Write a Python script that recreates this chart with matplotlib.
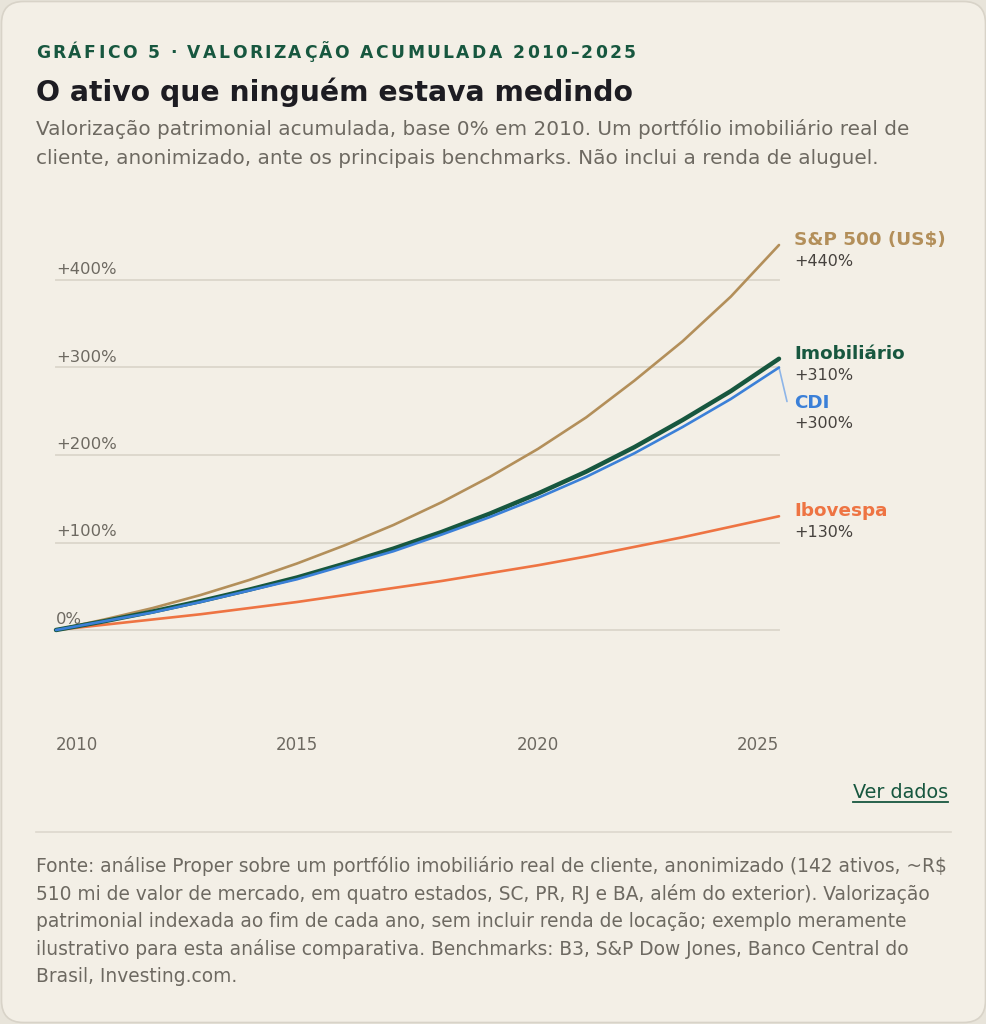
import matplotlib.pyplot as plt
from matplotlib.patches import FancyBboxPatch
from matplotlib.transforms import IdentityTransform
from matplotlib.font_manager import FontProperties

W, H = 987, 1024

years = list(range(2010, 2026))
sp500 = [0, 12, 25, 40, 57, 76, 97, 120, 146, 175, 207, 243, 285, 330, 381, 440]
imobiliario = [0, 10, 21, 33, 46, 60, 76, 93, 112, 133, 156, 181, 209, 240, 273, 310]
cdi = [0, 10, 20, 32, 45, 58, 74, 90, 109, 129, 151, 175, 202, 232, 264, 300]
ibovespa = [0, 6, 12, 18, 25, 32, 40, 48, 56, 65, 74, 84, 95, 106, 118, 130]

y_ticks = [0, 100, 200, 300, 400]
y_tick_labels = ["0%", "+100%", "+200%", "+300%", "+400%"]
x_ticks = [2010, 2015, 2020, 2025]

BG_OUT = "#E8E4DA"
BG = "#F3EFE6"
GRID = "#DDD8CD"
GREEN = "#17573F"
TAN = "#B38F5A"
BLUE = "#3B80D8"
ORANGE = "#EE7443"
INK = "#1D1C22"
GRAY = "#6D6961"
DARK = "#46423E"


def fx(x):
    return x / W


def fy(y):
    return 1 - y / H


def spaced_text(fig, x, y, s, total_width, **kw):
    # draw each character on its own so the kicker gets letter spacing
    r = fig.canvas.get_renderer()
    fp = FontProperties(family="DejaVu Sans", weight=kw.get("fontweight", "normal"),
                        size=kw.get("fontsize", 10))
    base = r.get_text_width_height_descent("xx", fp, ismath=False)[0]
    widths = []
    for ch in s:
        w = r.get_text_width_height_descent("x" + ch + "x", fp, ismath=False)[0] - base
        widths.append(w)
    gap = (total_width - sum(widths)) / (len(s) - 1)
    for ch, w in zip(s, widths):
        fig.text(fx(x), fy(y), ch, va="baseline", ha="left", **kw)
        x += w + gap


fig = plt.figure(figsize=(W / 100, H / 100), dpi=100, facecolor=BG_OUT)

card = FancyBboxPatch((1.5, 1.5), W - 3, H - 3,
                      boxstyle="round,pad=0,rounding_size=22",
                      transform=IdentityTransform(), zorder=-10,
                      facecolor=BG, edgecolor="#D8D3C8", linewidth=1.2)
fig.add_artist(card)

# header
spaced_text(fig, 36, 58, "GRÁFICO 5 · VALORIZAÇÃO ACUMULADA 2010–2025", 600,
            fontsize=12.3, fontweight="bold", color=GREEN)
fig.text(fx(36), fy(101), "O ativo que ninguém estava medindo", fontsize=20.3,
         fontweight="bold", color=INK, va="baseline")
fig.text(fx(36), fy(135), "Valorização patrimonial acumulada, base 0% em 2010. Um portfólio imobiliário real de",
         fontsize=14.4, color=GRAY, va="baseline")
fig.text(fx(36), fy(164), "cliente, anonimizado, ante os principais benchmarks. Não inclui a renda de aluguel.",
         fontsize=14.4, color=GRAY, va="baseline")

# plot area: 2010 -> x=56px, 2025 -> x=779px, 0% -> y=630px, 400% -> y=280px
ax = fig.add_axes([fx(56), fy(717.5), (779 - 56) / W, (717.5 - 192.5) / H])
ax.set_xlim(2010, 2025)
ax.set_ylim(-100, 500)
ax.axis("off")
ax.patch.set_alpha(0)

for v, lab in zip(y_ticks, y_tick_labels):
    ax.plot([2010, 2025], [v, v], color=GRID, lw=1.4, zorder=1, clip_on=False)
    ax.annotate(lab, (2010, v), xytext=(0, 6), textcoords="offset pixels",
                fontsize=11.8, color=GRAY, va="baseline", ha="left")

for yr in x_ticks:
    ha = "left" if yr == x_ticks[0] else ("right" if yr == x_ticks[-1] else "center")
    ax.annotate(str(yr), (yr, 0), xytext=(0, -120), textcoords="offset pixels",
                fontsize=12, color=GRAY, va="baseline", ha=ha, annotation_clip=False)

ax.plot(years, sp500, color=TAN, lw=1.9, zorder=3, clip_on=False, solid_capstyle="round")
ax.plot(years, ibovespa, color=ORANGE, lw=1.9, zorder=3, clip_on=False, solid_capstyle="round")
ax.plot(years, imobiliario, color=GREEN, lw=3.2, zorder=4, clip_on=False, solid_capstyle="round")
ax.plot(years, cdi, color=BLUE, lw=1.9, zorder=5, clip_on=False, solid_capstyle="round")

# end labels
series = [
    ("S&P 500 (US$)", sp500[-1], TAN, 0),
    ("Imobiliário", imobiliario[-1], GREEN, 0),
    ("CDI", cdi[-1], BLUE, -40),
    ("Ibovespa", ibovespa[-1], ORANGE, 0),
]
for name, end, col, dy in series:
    ax.annotate(name, (2025, end), xytext=(15, dy), textcoords="offset pixels",
                fontsize=13.2, fontweight="bold", color=col, va="baseline",
                annotation_clip=False)
    ax.annotate(f"+{end}%", (2025, end), xytext=(15, dy - 21), textcoords="offset pixels",
                fontsize=11.5, color=DARK, va="baseline", annotation_clip=False)

# leader from CDI end to its label
ax.annotate("", (2025, cdi[-1]), xytext=(8, -34), textcoords="offset pixels",
            arrowprops=dict(arrowstyle="-", color="#8DB5E8", lw=1.2,
                            shrinkA=0, shrinkB=0), annotation_clip=False)

# link and separator
fig.text(fx(948), fy(798), "Ver dados", fontsize=13.9, color=GREEN, va="baseline", ha="right")
fig.add_artist(plt.Line2D([fx(853), fx(948)], [fy(802), fy(802)], color=GREEN, lw=1.3))
fig.add_artist(plt.Line2D([fx(36), fx(951)], [fy(832), fy(832)], color=GRID, lw=1.2))

footer = [
    "Fonte: análise Proper sobre um portfólio imobiliário real de cliente, anonimizado (142 ativos, ~R$",
    "510 mi de valor de mercado, em quatro estados, SC, PR, RJ e BA, além do exterior). Valorização",
    "patrimonial indexada ao fim de cada ano, sem incluir renda de locação; exemplo meramente",
    "ilustrativo para esta análise comparativa. Benchmarks: B3, S&P Dow Jones, Banco Central do",
    "Brasil, Investing.com.",
]
for i, line in enumerate(footer):
    fig.text(fx(36), fy(872 + 27.6 * i), line, fontsize=13.4, color=GRAY, va="baseline")

fig.savefig("out.png", dpi=100, facecolor=BG_OUT)
